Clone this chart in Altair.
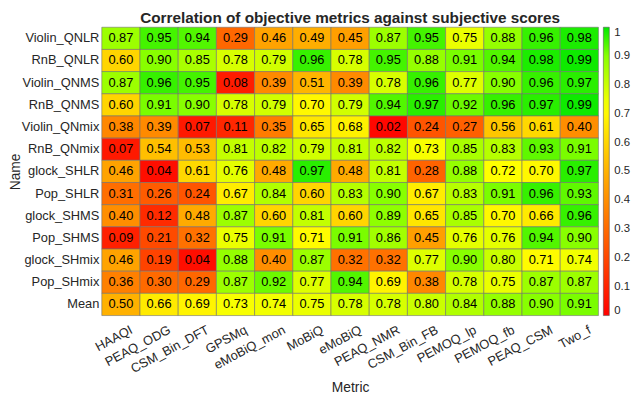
import altair as alt
import pandas as pd

metrics = ["HAAQI", "PEAQ_ODG", "CSM_Bin_DFT", "GPSMq", "eMoBiQ_mon", "MoBiQ", "eMoBiQ",
           "PEAQ_NMR", "CSM_Bin_FB", "PEMOQ_lp", "PEMOQ_fb", "PEAQ_CSM", "Two_f"]
names = ["Violin_QNLR", "RnB_QNLR", "Violin_QNMS", "RnB_QNMS", "Violin_QNmix", "RnB_QNmix",
         "glock_SHLR", "Pop_SHLR", "glock_SHMS", "Pop_SHMS", "glock_SHmix", "Pop_SHmix", "Mean"]

violin_qnlr = [0.87, 0.95, 0.94, 0.29, 0.46, 0.49, 0.45, 0.87, 0.95, 0.75, 0.88, 0.96, 0.98]
rnb_qnlr = [0.60, 0.90, 0.85, 0.78, 0.79, 0.96, 0.78, 0.95, 0.88, 0.91, 0.94, 0.98, 0.99]
violin_qnms = [0.87, 0.96, 0.95, 0.08, 0.39, 0.51, 0.39, 0.78, 0.96, 0.77, 0.90, 0.96, 0.97]
rnb_qnms = [0.60, 0.91, 0.90, 0.78, 0.79, 0.70, 0.79, 0.94, 0.97, 0.92, 0.96, 0.97, 0.99]
violin_qnmix = [0.38, 0.39, 0.07, 0.11, 0.35, 0.65, 0.68, 0.02, 0.24, 0.27, 0.56, 0.61, 0.40]
rnb_qnmix = [0.07, 0.54, 0.53, 0.81, 0.82, 0.79, 0.81, 0.82, 0.73, 0.85, 0.83, 0.93, 0.91]
glock_shlr = [0.46, 0.04, 0.61, 0.76, 0.48, 0.97, 0.48, 0.81, 0.28, 0.88, 0.72, 0.70, 0.97]
pop_shlr = [0.31, 0.26, 0.24, 0.67, 0.84, 0.60, 0.83, 0.90, 0.67, 0.83, 0.91, 0.96, 0.93]
glock_shms = [0.40, 0.12, 0.48, 0.87, 0.60, 0.81, 0.60, 0.89, 0.65, 0.85, 0.70, 0.66, 0.96]
pop_shms = [0.09, 0.21, 0.32, 0.75, 0.91, 0.71, 0.91, 0.86, 0.45, 0.76, 0.76, 0.94, 0.90]
glock_shmix = [0.46, 0.19, 0.04, 0.88, 0.40, 0.87, 0.32, 0.32, 0.77, 0.90, 0.80, 0.71, 0.74]
pop_shmix = [0.36, 0.30, 0.29, 0.87, 0.92, 0.77, 0.94, 0.69, 0.38, 0.78, 0.75, 0.87, 0.87]
mean_row = [0.50, 0.66, 0.69, 0.73, 0.74, 0.75, 0.78, 0.78, 0.80, 0.84, 0.88, 0.90, 0.91]

rows = [violin_qnlr, rnb_qnlr, violin_qnms, rnb_qnms, violin_qnmix, rnb_qnmix,
        glock_shlr, pop_shlr, glock_shms, pop_shms, glock_shmix, pop_shmix, mean_row]

colorbar_ticks = [0, 0.1, 0.2, 0.3, 0.4, 0.5, 0.6, 0.7, 0.8, 0.9, 1]

records = []
for name, vals in zip(names, rows):
    for metric, v in zip(metrics, vals):
        records.append({"Name": name, "Metric": metric, "value": v})
df = pd.DataFrame(records)

FONT = "Liberation Sans"
TXT = "#262626"

base = alt.Chart(df).encode(
    x=alt.X("Metric:N", sort=metrics,
            scale=alt.Scale(paddingInner=0, paddingOuter=0),
            axis=alt.Axis(title="Metric", labelAngle=332, labelAlign="right",
                          labelBaseline="top", labelPadding=8, labelOffset=8,
                          ticks=False, domain=False,
                          labelFontSize=13, labelColor=TXT, labelFont=FONT,
                          titleFont=FONT, titleFontSize=14, titleFontWeight="normal",
                          titleColor=TXT, titlePadding=5)),
    y=alt.Y("Name:N", sort=names,
            scale=alt.Scale(paddingInner=0, paddingOuter=0),
            axis=alt.Axis(title="Name", ticks=False, domain=False, labelPadding=3,
                          labelFontSize=13, labelColor=TXT, labelFont=FONT,
                          titleFont=FONT, titleFontSize=14, titleFontWeight="normal",
                          titleColor=TXT, titleX=-80)),
)

rect = base.mark_rect(stroke="#707070", strokeWidth=0.6).encode(
    color=alt.Color("value:Q",
                    scale=alt.Scale(domain=[0, 0.72, 0.9, 1],
                                    range=["#ff0000", "#ffff00", "#88ff00", "#00e800"],
                                    interpolate="rgb"),
                    legend=alt.Legend(title=None, orient="right", offset=5,
                                      gradientLength=292, gradientThickness=6,
                                      values=colorbar_ticks, format="~g",
                                      labelFontSize=11.5, labelColor=TXT, labelFont=FONT,
                                      labelOffset=5, labelOverlap=False,
                                      gradientStrokeColor="#555555",
                                      gradientStrokeWidth=0.6, direction="vertical"))
)

text = base.mark_text(fontSize=13, font=FONT, color="black").encode(
    text=alt.Text("value:Q", format=".2f")
)

chart = (rect + text).properties(
    width=503, height=292,
    title=alt.TitleParams("Correlation of objective metrics against subjective scores",
                          font=FONT, fontSize=15.5, fontWeight="bold", color=TXT,
                          anchor="middle", offset=1),
    padding={"left": 95, "top": 17, "right": 34, "bottom": 80},
    autosize=alt.AutoSizeParams(type="none"),
).configure_view(stroke=None)

chart.save("out.html", embed_options={"renderer": "svg", "actions": False})
